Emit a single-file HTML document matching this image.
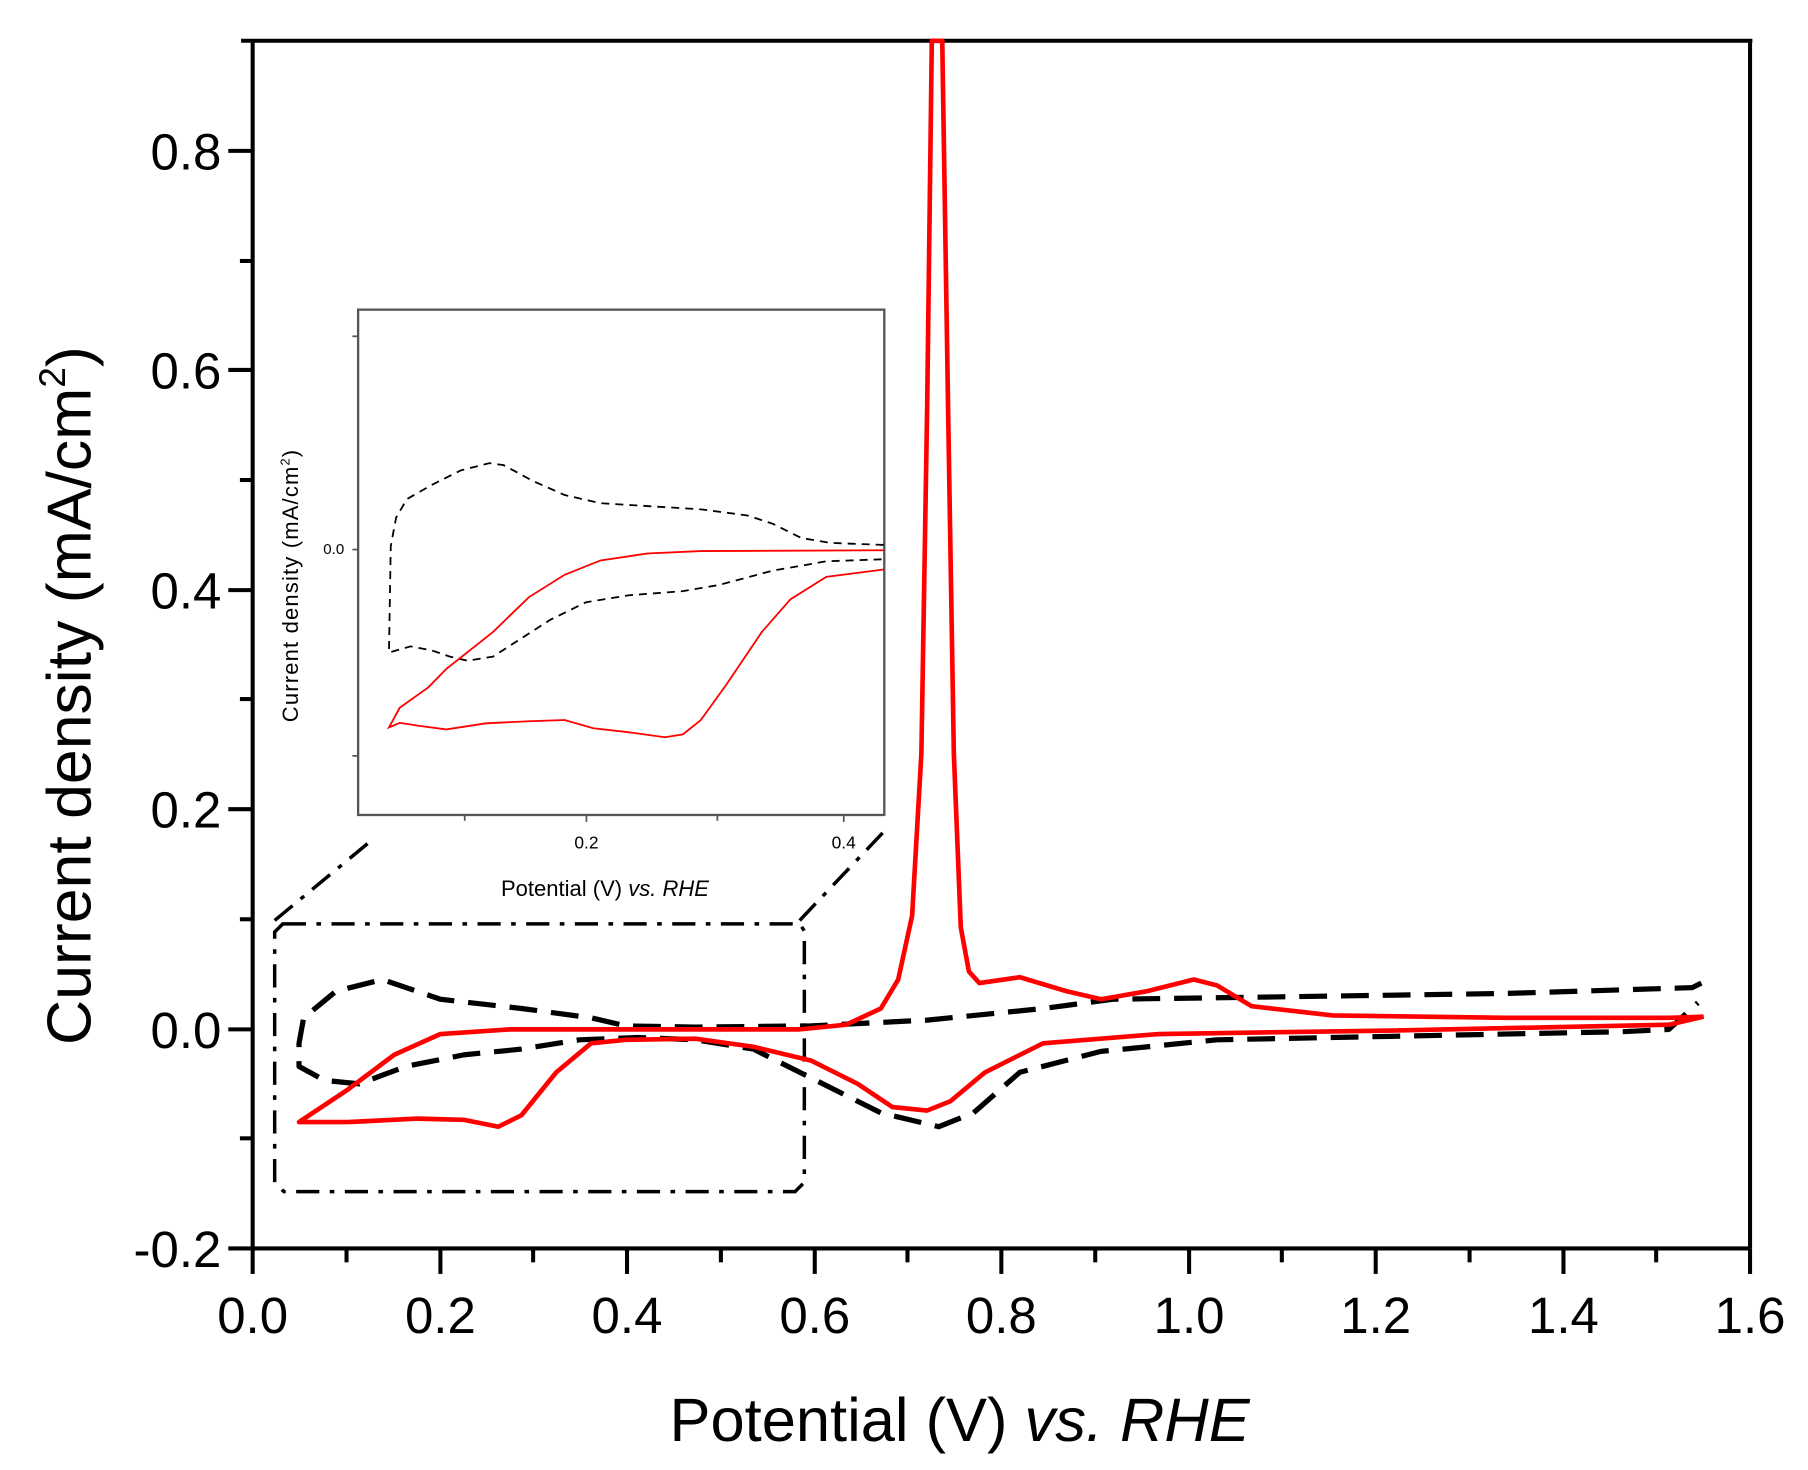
<!DOCTYPE html>
<html><head><meta charset="utf-8"><style>
html,body{margin:0;padding:0;background:#fff}
svg{display:block}
text{font-family:"Liberation Sans",Arial,sans-serif;fill:#000}
</style></head><body>
<svg width="1808" height="1470" viewBox="0 0 1560 1268" xmlns="http://www.w3.org/2000/svg">
<rect width="1560" height="1268" fill="#fff"/>
<g stroke="#000" stroke-width="3.5" fill="none">
<line x1="208" y1="35" x2="1512" y2="35"/>
<line x1="218" y1="35" x2="218" y2="1077"/>
<line x1="218" y1="1077" x2="1510" y2="1077"/>
<line x1="1510" y1="35" x2="1510" y2="1077"/>
<line x1="197" y1="130" x2="218" y2="130"/>
<line x1="207" y1="225" x2="218" y2="225"/>
<line x1="197" y1="319" x2="218" y2="319"/>
<line x1="207" y1="414" x2="218" y2="414"/>
<line x1="197" y1="509" x2="218" y2="509"/>
<line x1="207" y1="603" x2="218" y2="603"/>
<line x1="197" y1="698" x2="218" y2="698"/>
<line x1="207" y1="793" x2="218" y2="793"/>
<line x1="197" y1="888" x2="218" y2="888"/>
<line x1="207" y1="982" x2="218" y2="982"/>
<line x1="197" y1="1077" x2="218" y2="1077"/>
<line x1="218" y1="1077" x2="218" y2="1099"/>
<line x1="299" y1="1077" x2="299" y2="1089"/>
<line x1="380" y1="1077" x2="380" y2="1099"/>
<line x1="460" y1="1077" x2="460" y2="1089"/>
<line x1="541" y1="1077" x2="541" y2="1099"/>
<line x1="622" y1="1077" x2="622" y2="1089"/>
<line x1="703" y1="1077" x2="703" y2="1099"/>
<line x1="783" y1="1077" x2="783" y2="1089"/>
<line x1="864" y1="1077" x2="864" y2="1099"/>
<line x1="945" y1="1077" x2="945" y2="1089"/>
<line x1="1026" y1="1077" x2="1026" y2="1099"/>
<line x1="1106" y1="1077" x2="1106" y2="1089"/>
<line x1="1187" y1="1077" x2="1187" y2="1099"/>
<line x1="1268" y1="1077" x2="1268" y2="1089"/>
<line x1="1349" y1="1077" x2="1349" y2="1099"/>
<line x1="1429" y1="1077" x2="1429" y2="1089"/>
<line x1="1510" y1="1077" x2="1510" y2="1099"/>
</g>
<g font-size="44" text-anchor="end">
<text x="191" y="146">0.8</text>
<text x="191" y="335">0.6</text>
<text x="191" y="525">0.4</text>
<text x="191" y="714">0.2</text>
<text x="191" y="904">0.0</text>
<text x="191" y="1093">-0.2</text>
</g>
<g font-size="44" text-anchor="middle">
<text x="218" y="1150">0.0</text>
<text x="380" y="1150">0.2</text>
<text x="541" y="1150">0.4</text>
<text x="703" y="1150">0.6</text>
<text x="864" y="1150">0.8</text>
<text x="1026" y="1150">1.0</text>
<text x="1187" y="1150">1.2</text>
<text x="1349" y="1150">1.4</text>
<text x="1510" y="1150">1.6</text>
</g>
<text x="828" y="1243" font-size="53" text-anchor="middle">Potential (V) <tspan font-style="italic">vs. RHE</tspan></text>
<text transform="translate(78,600) rotate(-90)" font-size="54" text-anchor="middle">Current density (mA/cm<tspan font-size="32" dy="-22">2</tspan><tspan dy="22">)</tspan></text>

<g stroke="#000" stroke-width="3" fill="none" stroke-dasharray="20 9 4 9">
<path d="M244,797 L690,797 L694,803 L694,1020 L686,1028 L245,1028 L237,1020 L237,804 Z"/>
<line x1="237" y1="794" x2="318" y2="727"/>
<line x1="690" y1="794" x2="762" y2="718"/>
</g>

<path fill="none" stroke="#000" stroke-width="4.5" stroke-dasharray="24 12" stroke-linejoin="round"
d="M1468,848 L1460,852 L1300,857 L1100,860 L960,862 L900,870 L800,880 L700,885 L600,886 L540,885 L510,878 L450,870 L380,862 L330,845 L290,855 L262,878 L258,900 L258,920 L280,932 L310,935 L350,920 L400,910 L450,905 L500,897 L550,895 L600,897 L650,905 L700,930 L760,960 L810,972 L840,960 L880,925 L950,907 L1050,897 L1200,894 L1400,890 L1440,888 L1465,865"/>

<path fill="none" stroke="#f00" stroke-width="4" stroke-linejoin="round"
d="M1470,877 L1440,884 L1200,889 L1000,892 L900,900 L850,925 L820,950 L800,958 L770,955 L740,935 L700,915 L650,903 L600,896 L540,897 L510,900 L480,925 L450,962 L430,972 L400,966 L360,965 L300,968 L258,968 L300,940 L340,910 L380,892 L440,888 L600,888 L690,888 L730,884 L760,870 L775,845 L787,790 L795,650 L800,350 L804,35 L813,35 L818,350 L823,650 L829,800 L836,838 L845,848 L880,843 L920,855 L950,862 L990,855 L1030,845 L1050,850 L1080,868 L1150,876 L1300,878 L1440,878 L1470,877"/>

<rect x="309" y="267" width="454" height="436" fill="#fff" stroke="#555" stroke-width="2"/>
<g stroke="#555" stroke-width="1.5">
<line x1="304" y1="290" x2="309" y2="290"/>
<line x1="304" y1="474" x2="309" y2="474"/>
<line x1="304" y1="652" x2="309" y2="652"/>
<line x1="401" y1="703" x2="401" y2="708"/>
<line x1="506" y1="703" x2="506" y2="709"/>
<line x1="619" y1="703" x2="619" y2="708"/>
<line x1="728" y1="703" x2="728" y2="709"/>
</g>
<text x="297" y="478" font-size="13" text-anchor="end">0.0</text>
<text x="506" y="732" font-size="15" text-anchor="middle">0.2</text>
<text x="728" y="732" font-size="15" text-anchor="middle">0.4</text>
<text x="522" y="773" font-size="19" text-anchor="middle">Potential (V) <tspan font-style="italic">vs. RHE</tspan></text>
<text transform="translate(257,505) rotate(-90)" font-size="19" text-anchor="middle" letter-spacing="1">Current density (mA/cm<tspan font-size="11" dy="-7">2</tspan><tspan dy="7">)</tspan></text>
<g transform="translate(295.4,252.2) scale(0.3093,0.353)" fill="none">
<path vector-effect="non-scaling-stroke" stroke="#000" stroke-width="1.8" stroke-dasharray="8 6"
d="M1510,617 L1360,612 L1280,600 L1200,565 L1130,545 L1000,530 L850,522 L720,515 L620,495 L530,460 L450,422 L410,417 L330,435 L250,470 L180,505 L150,550 L135,620 L130,880 L190,865 L250,875 L300,890 L350,900 L420,890 L500,845 L580,800 L680,757 L800,740 L950,730 L1050,715 L1200,680 L1350,657 L1510,652"/>
<path vector-effect="non-scaling-stroke" stroke="#f00" stroke-width="1.8"
d="M1510,630 L1000,632 L850,638 L720,655 L620,690 L520,745 L420,830 L290,920 L240,965 L160,1015 L130,1063 L160,1052 L220,1060 L290,1068 L400,1053 L520,1048 L620,1045 L700,1065 L800,1075 L900,1087 L950,1080 L1000,1045 L1070,960 L1170,830 L1250,750 L1350,695 L1510,677"/>
</g>
</svg>
</body></html>
